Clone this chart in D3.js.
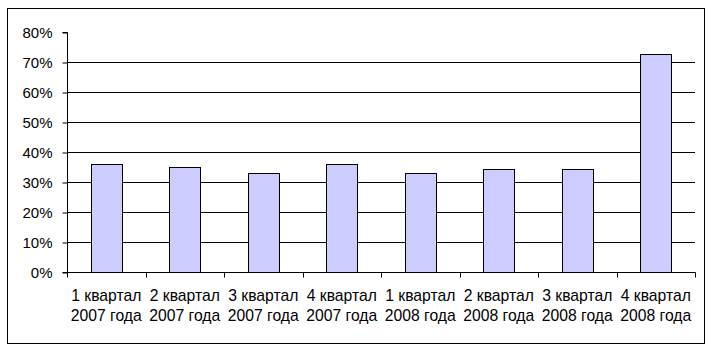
<!DOCTYPE html>
<html><head><meta charset="utf-8">
<script src="https://cdn.jsdelivr.net/npm/d3@7/dist/d3.min.js"></script>
<style>body{margin:0;background:#fff;}svg{display:block;}text{font-family:"Liberation Sans",Arial,sans-serif;fill:#000;}</style>
</head><body>
<svg id="c" width="715" height="351"></svg>
<script>
const categories = [
  ["1 квартал","2007 года"],["2 квартал","2007 года"],["3 квартал","2007 года"],["4 квартал","2007 года"],
  ["1 квартал","2008 года"],["2 квартал","2008 года"],["3 квартал","2008 года"],["4 квартал","2008 года"]
];
const values = [0.359, 0.350, 0.329, 0.359, 0.329, 0.342, 0.342, 0.726];
const yTicks = [0, 0.1, 0.2, 0.3, 0.4, 0.5, 0.6, 0.7, 0.8];

const svg = d3.select("#c");
svg.append("rect").attr("x",7.5).attr("y",8.5).attr("width",697).attr("height",335)
  .attr("fill","#fff").attr("stroke","#000").attr("stroke-width",1);

const L = 67, R = 695, T = 32, B = 272;
const x = d3.scaleBand().domain(d3.range(categories.length)).range([L, R]).paddingInner(0.6).paddingOuter(0.3);
const xb = d3.scaleBand().domain(d3.range(categories.length)).range([L, R]);
const y = d3.scaleLinear().domain([0, 0.8]).range([B, T]);

// gridlines
svg.append("g").selectAll("line").data(yTicks.filter(t => t > 0 && t < 0.8)).join("line")
  .attr("x1", L).attr("x2", R).attr("y1", d => Math.round(y(d)) + 0.5).attr("y2", d => Math.round(y(d)) + 0.5)
  .attr("stroke", "#000").attr("stroke-width", 1);

// bars
svg.append("g").selectAll("rect").data(values).join("rect")
  .attr("x", (d, i) => Math.round(x(i)) + 0.5)
  .attr("y", d => Math.round(y(d)) + 0.5)
  .attr("width", Math.round(x.bandwidth()))
  .attr("height", d => B - Math.round(y(d)))
  .attr("fill", "#ccccff").attr("stroke", "#000").attr("stroke-width", 1);

// y axis
const yAxis = d3.axisLeft(y).tickValues(yTicks).tickFormat(d3.format(".0%")).tickSize(5).tickPadding(10);
const gy = svg.append("g").attr("transform", `translate(${L + 0.5},0.5)`).call(yAxis);
gy.select(".domain").attr("stroke", "#000").attr("d", `M-5,${T}H0V${B}H-5`);
gy.selectAll(".tick line").attr("stroke", "#000");
gy.selectAll(".tick text").attr("font-size", 15).attr("font-family", "Liberation Sans, Arial, sans-serif");

// x axis
const gx = svg.append("g").attr("transform", `translate(0,${B + 0.5})`);
gx.append("line").attr("x1", L).attr("x2", R + 0.5).attr("y1", 0).attr("y2", 0).attr("stroke", "#000");
gx.selectAll("line.t").data(d3.range(categories.length + 1)).join("line").attr("class","t")
  .attr("x1", i => Math.round(L + i * xb.step()) + 0.5).attr("x2", i => Math.round(L + i * xb.step()) + 0.5)
  .attr("y1", 0).attr("y2", 5).attr("stroke", "#000");
const lbl = gx.selectAll("text").data(categories).join("text")
  .attr("text-anchor", "middle").attr("font-size", 15.7)
  .attr("transform", (d, i) => `translate(${xb(i) + xb.bandwidth() / 2},0)`);
lbl.selectAll("tspan").data(d => d).join("tspan")
  .attr("x", 0).attr("y", (d, j) => 28 + j * 20).text(d => d);
</script>
</body></html>
